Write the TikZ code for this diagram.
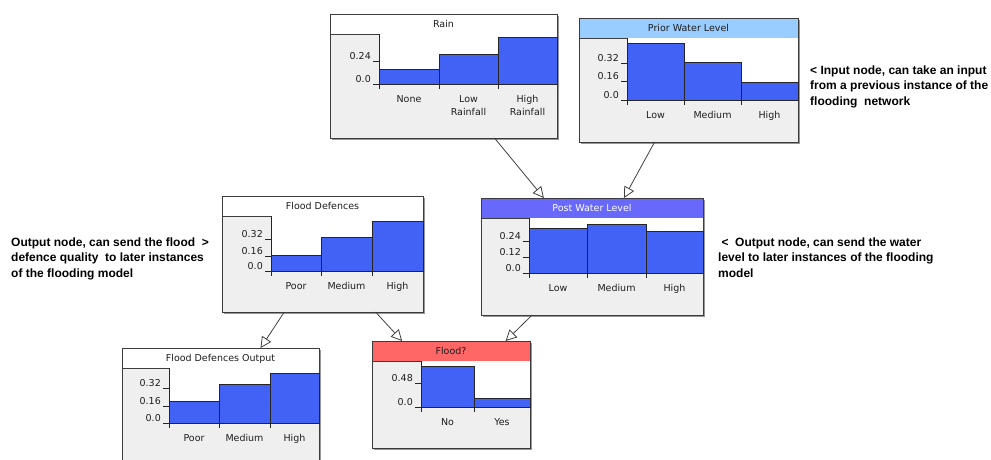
\documentclass[tikz,border=0pt]{standalone}
\usepackage{fontspec}
\setmainfont{DejaVu Sans}
\newfontfamily\annfont{Liberation Sans}
\usetikzlibrary{arrows.meta}
\definecolor{barc}{RGB}{66,98,245}
\definecolor{bodyc}{RGB}{239,239,239}
\definecolor{framec}{RGB}{60,60,60}
\definecolor{shadc}{RGB}{150,150,150}
\definecolor{priorc}{RGB}{153,204,255}
\definecolor{postc}{RGB}{104,104,250}
\definecolor{floodc}{RGB}{255,102,102}
\definecolor{txtc}{RGB}{30,30,30}
\tikzset{
  bnbox/.style={draw=framec, line width=0.9pt, rectangle, inner sep=0pt, outer sep=0pt},
  bar/.style={fill=barc, draw=black!85, line width=0.7pt},
  axisl/.style={draw=black!85, line width=0.8pt},
  lbl/.style={font=\fontsize{9.5}{11}\selectfont, text=txtc, inner sep=0pt, anchor=base},
  ticklbl/.style={lbl, anchor=base east},
  link/.style={draw=black!75, line width=0.8pt, -{Triangle[length=11pt,width=11pt,fill=white,line width=0.8pt]}},
  ann/.style={font=\annfont\bfseries\fontsize{12}{15.5}\selectfont, align=left, inner sep=0pt, anchor=base west}
}
% name, x1, y1, x2, y2, title bottom, title fill, title text colour, title
\newcommand\bnbox[9]{%
  \fill[shadc] (#2+2,#3+2) rectangle (#4+2,#5+2);
  \fill[bodyc] (#2,#3) rectangle (#4,#5);
  \fill[#7] (#2,#3) rectangle (#4,#6);
  \draw[framec, line width=0.8pt] (#2,#6) -- (#4,#6);
  \node[lbl, text=#8] (#1-title) at ({(#2+#4)/2},{(#3+#6)/2+3.5}) {#9};
  \node[bnbox, minimum width={#4-#2}, minimum height={#5-#3}] (#1) at ({(#2+#4)/2},{(#3+#5)/2}) {};
}
% axis x, top y, right x, base y
\newcommand\bnchart[4]{\fill[white] (#1,#2) rectangle (#3,#4);}
\newcommand\bnaxis[4]{%
  \draw[axisl] (#1,#2) -- (#1,#4+5);
  \draw[axisl] (#1-6,#4) -- (#3,#4);
}
% name, axis x, y, label
\newcommand\bntick[4]{%
  \draw[axisl] (#2-6,#3) -- (#2,#3);
  \node[ticklbl] (#1) at (#2-8,#3-1.5) {#4};
}
% name, x1, x2, top, base, label
\newcommand\bnbar[6]{%
  \filldraw[bar] (#2,#5) rectangle (#3,#4);
  \draw[axisl] (#2,#5) -- (#2,#5+5);
  \node[lbl] (#1) at ({(#2+#3)/2},#5+18.5) {#6};
}
\begin{document}
\begin{tikzpicture}[x=1pt,y=-1pt]
\useasboundingbox (0,0) rectangle (991,460);

% Rain
\bnbox{rain}{330}{14}{557}{138}{34}{white}{txtc}{Rain}
\bnchart{379}{34}{557}{84}
\bnbar{rain-none}{379}{439}{69}{84}{None}
\bnbar{rain-low}{439}{498}{54}{84}{Low}
\bnbar{rain-high}{498}{557}{37}{84}{High}
\node[lbl] (rain-low2) at (468.5,115.5) {Rainfall};
\node[lbl] (rain-high2) at (527.5,115.5) {Rainfall};
\bnaxis{379}{34}{557}{84}
\bntick{rain-t1}{379}{61}{0.24}
\bntick{rain-t0}{379}{84}{0.0}

% Prior Water Level
\bnbox{prior}{579}{18}{798}{142}{38}{priorc}{txtc}{Prior Water Level}
\bnchart{627}{38}{798}{100}
\bnbar{prior-low}{627}{684}{43}{100}{Low}
\bnbar{prior-med}{684}{741}{62}{100}{Medium}
\bnbar{prior-high}{741}{798}{82}{100}{High}
\bnaxis{627}{38}{798}{100}
\bntick{prior-t2}{627}{63}{0.32}
\bntick{prior-t1}{627}{81}{0.16}
\bntick{prior-t0}{627}{100}{0.0}

% Flood Defences
\bnbox{fd}{222}{196}{423}{312}{216}{white}{txtc}{Flood Defences}
\bnchart{271}{216}{423}{271}
\bnbar{fd-poor}{271}{321}{255}{271}{Poor}
\bnbar{fd-med}{321}{372}{237}{271}{Medium}
\bnbar{fd-high}{372}{423}{221}{271}{High}
\bnaxis{271}{216}{423}{271}
\bntick{fd-t2}{271}{239}{0.32}
\bntick{fd-t1}{271}{256}{0.16}
\bntick{fd-t0}{271}{271}{0.0}

% Post Water Level
\bnbox{post}{481}{198}{703}{315}{218}{postc}{white}{Post Water Level}
\bnchart{529}{218}{703}{273}
\bnbar{post-low}{529}{587}{228}{273}{Low}
\bnbar{post-med}{587}{646}{224}{273}{Medium}
\bnbar{post-high}{646}{703}{231}{273}{High}
\bnaxis{529}{218}{703}{273}
\bntick{post-t2}{529}{241}{0.24}
\bntick{post-t1}{529}{257}{0.12}
\bntick{post-t0}{529}{273}{0.0}

% Flood Defences Output
\bnbox{fdo}{122}{348}{319}{470}{368}{white}{txtc}{Flood Defences Output}
\bnchart{169}{368}{319}{423}
\bnbar{fdo-poor}{169}{219}{401}{423}{Poor}
\bnbar{fdo-med}{219}{270}{384}{423}{Medium}
\bnbar{fdo-high}{270}{319}{373}{423}{High}
\bnaxis{169}{368}{319}{423}
\bntick{fdo-t2}{169}{388}{0.32}
\bntick{fdo-t1}{169}{406}{0.16}
\bntick{fdo-t0}{169}{423}{0.0}

% Flood?
\bnbox{flood}{372}{341}{530}{448}{361}{floodc}{txtc}{Flood?}
\bnchart{421}{361}{530}{407}
\bnbar{flood-no}{421}{474}{366}{407}{No}
\bnbar{flood-yes}{474}{530}{398}{407}{Yes}
\bnaxis{421}{361}{530}{407}
\bntick{flood-t1}{421}{383}{0.48}
\bntick{flood-t0}{421}{407}{0.0}

% connectors
\draw[link] (rain) -- (post);
\draw[link] (prior) -- (post);
\draw[link] (fd) -- (fdo);
\draw[link] (fd) -- (flood);
\draw[link] (post) -- (flood);

% annotations (base anchor = baseline of the last line)
\node[ann] (ann-input) at (810,105) {< Input node, can take an input\\from a previous instance of the\\flooding\ \ network};
\node[ann] (ann-fd) at (11,277) {Output node, can send the flood\ \ >\\defence quality\ \ to later instances\\of the flooding model};
\node[ann] (ann-post) at (718,277) {\ <\ \ Output node, can send the water\\level to later instances of the flooding\\model};
\end{tikzpicture}
\end{document}
